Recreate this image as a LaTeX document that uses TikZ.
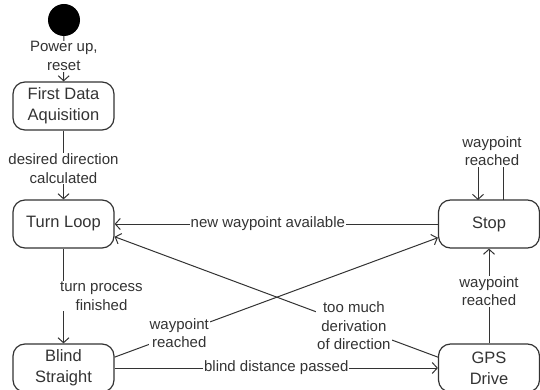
\documentclass[tikz,border=0pt]{standalone}
\usepackage{fontspec}
\setmainfont{Liberation Sans}
\usetikzlibrary{arrows.meta}
\definecolor{ink}{HTML}{333333}
\begin{document}
\begin{tikzpicture}[x=1pt,y=-1pt,
  state/.style={draw=ink, line width=1.2pt, rounded corners=12pt,
    minimum width=101pt, minimum height=48pt, align=center, text=ink,
    font=\fontsize{16.5}{21}\selectfont},
  startdot/.style={circle, fill=black, minimum size=32pt, inner sep=0pt},
  elabel/.style={fill=white, inner sep=1pt, align=center, text=ink,
    font=\fontsize{15}{18.5}\selectfont},
  arr/.style={draw=ink, line width=1pt, -{Straight Barb[length=5pt,width=11pt]}},
  ln/.style={draw=ink, line width=1pt}]
\useasboundingbox (0,0) rectangle (540,390);
\clip (0,0) rectangle (540,390);

% states
\node[startdot] (start) at (64,20) {};
\node[state] (fda) at (63.5,106) {First Data\\Aquisition};
\node[state] (turn) at (63.5,224) {Turn Loop};
\node[state] (blind) at (63.5,368) {Blind\\Straight};
\node[state] (stop) at (489,224) {Stop};
\node[state] (gps) at (489,368) {GPS\\Drive};

% transitions
\draw[arr] (start) -- node[elabel, pos=0.44] {Power up,\\reset} (fda);
\draw[arr] (fda) -- node[elabel, pos=0.55] {desired direction\\calculated} (turn);
\draw[arr] (turn) -- node[elabel, xshift=38pt] {turn process\\finished} (blind);
\draw[arr] (stop.west) -- node[elabel, pos=0.526] {new waypoint available} (turn.east);
\draw[arr] (blind.12) -- node[elabel, pos=0.2] {waypoint\\reached} (stop.195);
\draw[arr] (gps.168) -- node[elabel, pos=0.26] {too much\\derivation\\of direction} (turn.-14);
\draw[arr] (blind.east) -- node[elabel, pos=0.5] {blind distance passed} (gps.west);
\draw[arr] (gps.north) -- node[elabel, pos=0.55] {waypoint\\reached} (stop.south);

% self loop on Stop
\coordinate (loopout) at (503,200);
\coordinate (loopin) at (478,200);
\draw[arr] (loopout) -- (503,150) -- (478,150) -- (loopin);
\node[elabel] (looplbl) at (492,151) {waypoint\\reached};
\end{tikzpicture}
\end{document}
